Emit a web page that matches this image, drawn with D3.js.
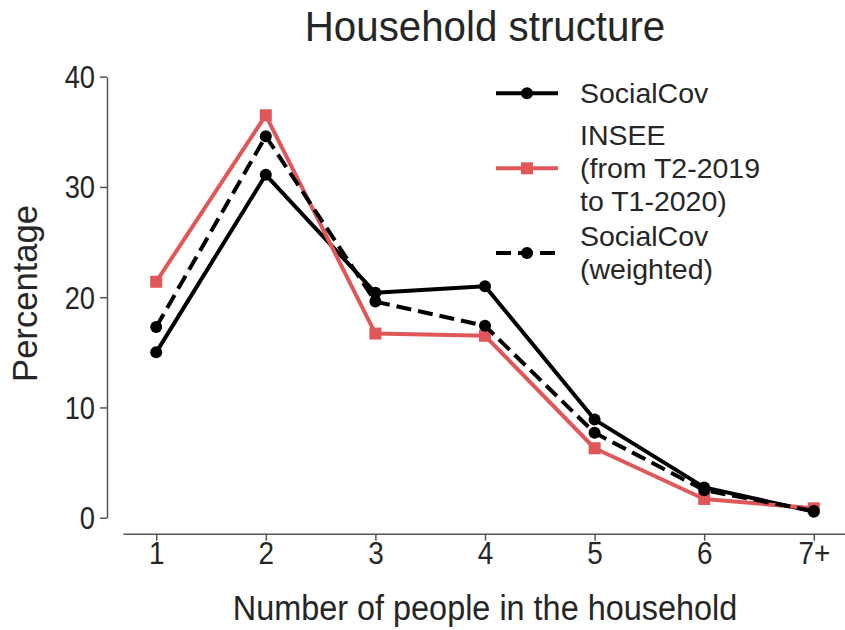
<!DOCTYPE html>
<html>
<head>
<meta charset="utf-8">
<script src="https://cdn.jsdelivr.net/npm/d3@7/dist/d3.min.js"></script>
<style>
  html, body { margin: 0; padding: 0; background: #fff; }
  svg { display: block; }
  text { font-family: "Liberation Sans", Arial, sans-serif; fill: #262626; }
</style>
</head>
<body>
<svg id="chart" width="845" height="630"></svg>
<script>
// Household size categories
const categories = ["1", "2", "3", "4", "5", "6", "7+"];

// Share of households (%) by number of people
const socialCov = [15.0, 31.1, 20.4, 21.0, 8.9, 2.75, 0.55];
const insee = [21.4, 36.5, 16.7, 16.5, 6.3, 1.7, 0.85];
const socialCovWeighted = [17.3, 34.6, 19.6, 17.4, 7.7, 2.5, 0.6];

const yTicks = [0, 10, 20, 30, 40];

const series = [
  { name: ["SocialCov"], values: socialCov, color: "#000000", dash: null, marker: "circle" },
  { name: ["INSEE", "(from T2-2019", "to T1-2020)"], values: insee, color: "#e05759", dash: null, marker: "square" },
  { name: ["SocialCov", "(weighted)"], values: socialCovWeighted, color: "#000000", dash: "15,7", marker: "circle" }
];

const svg = d3.select("#chart");

// Place a text at (px, py) with an optional horizontal squeeze
function placeText(sel, px, py, sx = 1) {
  sel.attr("x", 0).attr("y", 0)
    .attr("transform", `translate(${px},${py}) scale(${sx},1)`);
}

// Plot area
const plot = { left: 123, right: 847, top: 76.7, bottom: 517.7 };
const spineOffset = 16;

const x = d3.scalePoint().domain(categories).range([plot.left, plot.right]).padding(0.303);
const y = d3.scaleLinear().domain([0, 40]).range([plot.bottom, plot.top]);

// Axes (spines offset from the data area)
const axisColor = "#555555";
const tickFont = 31;

const yAxis = svg.append("g")
  .attr("transform", `translate(${plot.left - spineOffset},0)`)
  .call(d3.axisLeft(y).tickValues(yTicks).tickSize(7).tickSizeOuter(0));

const xAxis = svg.append("g")
  .attr("transform", `translate(0,${plot.bottom + spineOffset})`)
  .call(d3.axisBottom(x).tickSize(7).tickSizeOuter(0));

[yAxis, xAxis].forEach(g => {
  g.select(".domain").attr("stroke", axisColor).attr("stroke-width", 1.5);
  g.selectAll(".tick line").attr("stroke", axisColor).attr("stroke-width", 1.5);
  g.selectAll(".tick text")
    .attr("fill", "#262626")
    .attr("dy", null)
    .style("font-family", "'Liberation Sans', Arial, sans-serif")
    .style("font-size", tickFont + "px");
});
yAxis.selectAll(".tick text")
  .attr("text-anchor", "end")
  .attr("dy", "0.35em")
  .each(function () { placeText(d3.select(this), -12, 0, 0.88); });
xAxis.selectAll(".tick text")
  .attr("text-anchor", "middle")
  .each(function () { placeText(d3.select(this), 0, 30, 0.9); });

// Lines and markers
const line = d3.line()
  .x((d, i) => x(categories[i]))
  .y(d => y(d));

function drawMarker(g, type, cx, cy, color) {
  if (type === "circle") {
    g.append("circle").attr("cx", cx).attr("cy", cy).attr("r", 6).attr("fill", color);
  } else {
    g.append("rect").attr("x", cx - 6).attr("y", cy - 6).attr("width", 12).attr("height", 12).attr("fill", color);
  }
}

series.forEach(s => {
  const g = svg.append("g");
  g.append("path")
    .datum(s.values)
    .attr("d", line)
    .attr("fill", "none")
    .attr("stroke", s.color)
    .attr("stroke-width", 4)
    .attr("stroke-linejoin", "round")
    .attr("stroke-dasharray", s.dash);
  s.values.forEach((v, i) => drawMarker(g, s.marker, x(categories[i]), y(v), s.color));
});

// Legend
const legendRows = [93.3, 168.3, 253];
const lineHeight = 33;
series.forEach((s, k) => {
  const ly = legendRows[k];
  const g = svg.append("g");
  g.append("line")
    .attr("x1", 496).attr("x2", 558).attr("y1", ly).attr("y2", ly)
    .attr("stroke", s.color).attr("stroke-width", 4)
    .attr("stroke-dasharray", s.dash);
  drawMarker(g, s.marker, 527, ly, s.color);
  const n = s.name.length;
  s.name.forEach((t, j) => {
    g.append("text")
      .attr("dy", "0.35em")
      .style("font-size", "28.5px")
      .text(t)
      .call(placeText, 580, ly + (j - (n - 1) / 2) * lineHeight);
  });
});

// Title and axis labels
svg.append("text")
  .attr("text-anchor", "middle")
  .style("font-size", "43px")
  .text("Household structure")
  .call(placeText, (plot.left + plot.right) / 2, 41, 0.937);

svg.append("text")
  .attr("text-anchor", "middle")
  .style("font-size", "34.6px")
  .text("Number of people in the household")
  .call(placeText, (plot.left + plot.right) / 2, 620, 0.937);

svg.append("text")
  .attr("transform", `translate(37,293.5) rotate(-90)`)
  .attr("text-anchor", "middle")
  .style("font-size", "34.6px")
  .text("Percentage");
</script>
</body>
</html>
